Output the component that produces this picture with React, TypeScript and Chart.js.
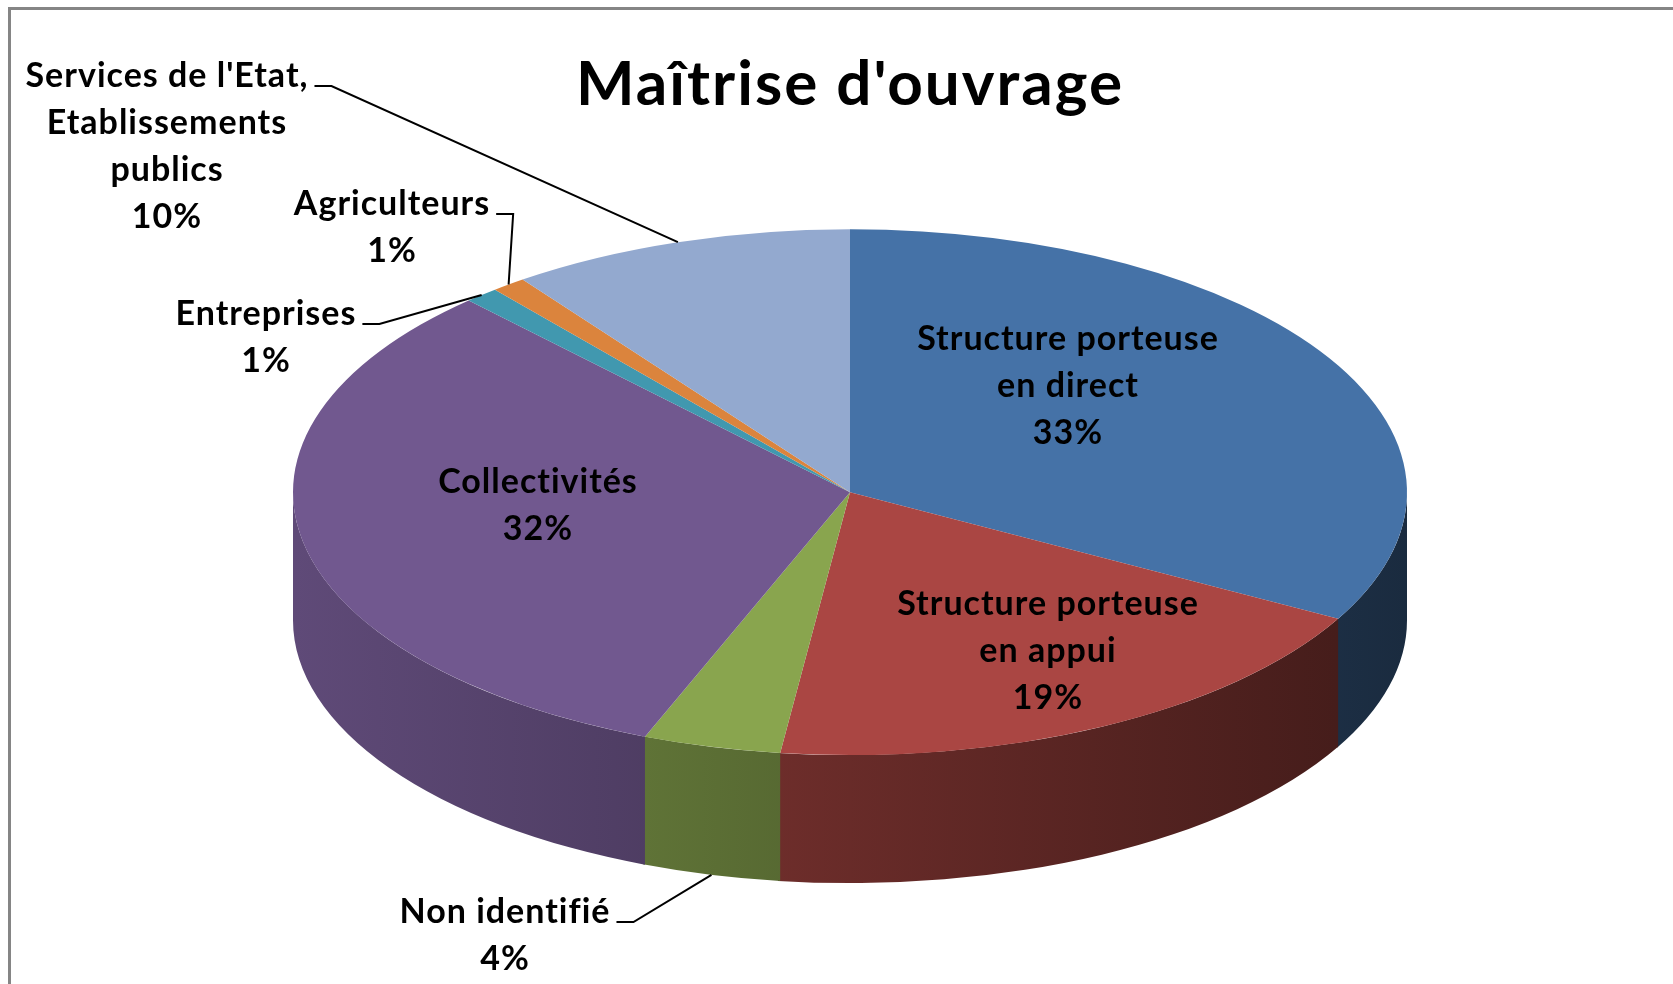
import React, { useEffect, useRef } from 'react';
import { Chart, registerables } from 'chart.js';

Chart.register(...registerables);

// ---------- data ----------
const chartTitle = "Maîtrise d'ouvrage";
const categories = [
  'Structure porteuse en direct',
  'Structure porteuse en appui',
  'Non identifié',
  'Collectivités',
  'Entreprises',
  'Agriculteurs',
  "Services de l'Etat, Etablissements publics",
];
const shares = [33, 19, 4, 32, 1, 1, 10];
const labelLines = [
  ['Structure porteuse', 'en direct'],
  ['Structure porteuse', 'en appui'],
  ['Non identifié'],
  ['Collectivités'],
  ['Entreprises'],
  ['Agriculteurs'],
  ["Services de l'Etat,", 'Etablissements', 'publics'],
];
const percentLabels = ['33%', '19%', '4%', '32%', '1%', '1%', '10%'];
const sliceColors = ['#4572A7', '#AA4643', '#89A54E', '#71588F', '#4198AF', '#DB843D', '#93A9CF'];

// ---------- layout / style ----------
const W = 1673;
const H = 984;
const VIEW = { tilt: 0.472, depth: 128, radius: 557 };
const LABEL_FONT = 'bold 34px Lato';
const LINE_H = 47;
const LABEL_LAYOUT = [
  { x: 1068, y: 350, leader: false },
  { x: 1048, y: 615, leader: false },
  { x: 505, y: 923, leader: true },
  { x: 538, y: 493, leader: false },
  { x: 266, y: 325, leader: true },
  { x: 392, y: 215, leader: true },
  { x: 167, y: 87, leader: true },
];

function shade(hex: string, f: number): string {
  const n = parseInt(hex.slice(1), 16);
  const r = Math.round(((n >> 16) & 255) * f);
  const g = Math.round(((n >> 8) & 255) * f);
  const b = Math.round((n & 255) * f);
  return `rgb(${r},${g},${b})`;
}

const pie3d = {
  id: 'pie3d',
  beforeDraw(chart: any) {
    (chart.ctx as any).letterSpacing = '2px';
  },
  beforeDatasetsDraw(chart: any) {
    const ctx = chart.ctx;
    (ctx as any).letterSpacing = '0px';
    const arcs = chart.getDatasetMeta(0).data;
    const colors = chart.data.datasets[0].backgroundColor;
    const a0 = arcs[0];
    const cx = a0.x;
    const cy = a0.y;
    const r = a0.outerRadius;
    const ry = r * VIEW.tilt;
    const d = VIEW.depth;
    arcs.forEach((arc: any, i: number) => {
      const a = Math.max(arc.startAngle, 0);
      const b = Math.min(arc.endAngle + 0.004, Math.PI);
      if (b <= a) return;
      ctx.beginPath();
      ctx.ellipse(cx, cy, r, ry, 0, a, b, false);
      ctx.lineTo(cx + r * Math.cos(b), cy + ry * Math.sin(b) + d);
      ctx.ellipse(cx, cy + d, r, ry, 0, b, a, true);
      ctx.closePath();
      const g = ctx.createLinearGradient(cx - r, 0, cx + r, 0);
      g.addColorStop(0, shade(colors[i], 0.84));
      g.addColorStop(1, shade(colors[i], 0.38));
      ctx.fillStyle = g;
      ctx.fill();
    });
    ctx.save();
    ctx.translate(cx, cy);
    ctx.scale(1, VIEW.tilt);
    ctx.translate(-a0.x, -a0.y);
  },
  afterDatasetsDraw(chart: any) {
    const ctx = chart.ctx;
    ctx.restore();
    const arcs = chart.getDatasetMeta(0).data;
    const a0 = arcs[0];
    const cx = a0.x;
    const cy = a0.y;
    const r = a0.outerRadius;
    const ry = r * VIEW.tilt;
    ctx.save();
    ctx.font = LABEL_FONT;
    (ctx as any).letterSpacing = '1px';
    ctx.fillStyle = '#000';
    ctx.textAlign = 'center';
    ctx.textBaseline = 'alphabetic';
    arcs.forEach((arc: any, i: number) => {
      const pos = LABEL_LAYOUT[i];
      const lines = [...labelLines[i], percentLabels[i]];
      lines.forEach((t, j) => ctx.fillText(t, pos.x, pos.y + j * LINE_H));
      if (pos.leader) {
        const m = (arc.startAngle + arc.endAngle) / 2;
        const ax = cx + r * Math.cos(m);
        const ay = cy + ry * Math.sin(m) + (Math.sin(m) > 0 ? VIEW.depth : 0);
        const w = ctx.measureText(lines[0]).width;
        const x0 = pos.x + w / 2 + 6;
        const y0 = pos.y - 1;
        ctx.beginPath();
        ctx.moveTo(x0, y0);
        ctx.lineTo(x0 + 17, y0);
        ctx.lineTo(ax, ay);
        ctx.strokeStyle = '#000';
        ctx.lineWidth = 2;
        ctx.stroke();
      }
    });
    (ctx as any).letterSpacing = '0px';
    ctx.restore();
  },
};

export default function App() {
  const ref = useRef<HTMLCanvasElement>(null);
  useEffect(() => {
    document.body.style.margin = '0';
    document.body.style.overflow = 'hidden';
    let chart: Chart | null = null;
    let cancelled = false;
    const make = () => {
      if (cancelled || !ref.current) return;
      Chart.defaults.font.family = 'Lato';
      chart = new Chart(ref.current, {
        type: 'pie',
        data: {
          labels: categories,
          datasets: [
            {
              data: shares,
              backgroundColor: sliceColors,
              borderWidth: 0,
              radius: VIEW.radius,
              clip: false,
            } as any,
          ],
        },
        options: {
          responsive: false,
          animation: false,
          devicePixelRatio: 1,
          events: [],
          layout: { padding: { left: 27, right: 0, top: 0, bottom: 122 } },
          plugins: {
            legend: { display: false },
            tooltip: { enabled: false },
            title: {
              display: true,
              text: chartTitle,
              color: '#000',
              font: { family: 'Lato', size: 62, weight: 'bold', lineHeight: 1.2 },
              padding: { top: 48, bottom: 0 },
            },
          },
        },
        plugins: [pie3d],
      });
    };
    const fonts: any = (document as any).fonts;
    if (fonts && fonts.load) {
      Promise.all([fonts.load('bold 62px Lato'), fonts.load('bold 34px Lato')]).then(make, make);
    } else make();
    return () => {
      cancelled = true;
      if (chart) chart.destroy();
    };
  }, []);
  return (
    <div style={{ position: 'relative', width: W, height: H, overflow: 'hidden', background: '#fff' }}>
      <div
        style={{
          position: 'absolute',
          left: 8,
          top: 7,
          width: W + 100,
          height: H + 100,
          borderTop: '3px solid #858585',
          borderLeft: '3px solid #858585',
        }}
      />
      <canvas ref={ref} width={W} height={H} style={{ position: 'absolute', left: 0, top: 0, width: W, height: H }} />
    </div>
  );
}
